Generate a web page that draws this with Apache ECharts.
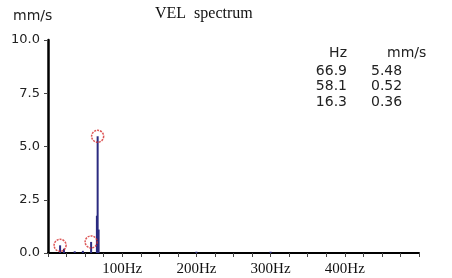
<!DOCTYPE html>
<html>
<head>
<meta charset="utf-8">
<script src="https://cdn.jsdelivr.net/npm/echarts@6/dist/echarts.min.js"></script>
<style>html,body{margin:0;padding:0;background:#fff}#c{width:452px;height:278px}</style>
</head>
<body>
<div id="c"></div>
<script>
const freqs = [16.3, 21.5, 36, 47, 58.1, 65.9, 66.9, 68.2, 200, 300];
const amps  = [0.36, 0.2, 0.08, 0.1, 0.52, 1.75, 5.48, 1.1, 0.06, 0.06];
const peakFreqs = [66.9, 58.1, 16.3];
const peakAmps  = [5.48, 0.52, 0.36];
const yTicks = [0, 2.5, 5, 7.5, 10];
const xLabelTicks = [100, 200, 300, 400];

const chart = echarts.init(document.getElementById('c'), null, {renderer: 'canvas'});
const sans = 'DejaVu Sans';
const serif = 'Liberation Serif';
const graphics = [
  {type: 'text', left: 13, top: 9, style: {text: 'mm/s', font: '14px "' + sans + '"', fill: '#222'}},
  {type: 'text', left: 155, top: 6, style: {text: 'VEL  spectrum', font: '16px "' + serif + '"', fill: '#111'}},
  {type: 'text', right: 105, top: 46, style: {text: 'Hz', font: '14px "' + sans + '"', fill: '#222', textAlign: 'right'}},
  {type: 'text', left: 387, top: 46, style: {text: 'mm/s', font: '14px "' + sans + '"', fill: '#222'}}
];
peakFreqs.forEach((f, i) => {
  graphics.push({type: 'text', right: 105, top: 64 + i * 15.6, style: {text: f.toFixed(1), font: '14px "' + sans + '"', fill: '#222'}});
  graphics.push({type: 'text', left: 371, top: 64 + i * 15.6, style: {text: peakAmps[i].toFixed(2), font: '14px "' + sans + '"', fill: '#222'}});
});

chart.setOption({
  animation: false,
  backgroundColor: '#fff',
  grid: {left: 48, right: 33, top: 40, bottom: 25},
  xAxis: {
    type: 'value', min: 0, max: 500, interval: 100,
    axisLine: {show: true, lineStyle: {color: '#000', width: 2}},
    axisTick: {show: true, length: 4, lineStyle: {color: '#444'}},
    minorTick: {show: true, splitNumber: 4, length: 4, lineStyle: {color: '#444'}},
    splitLine: {show: false},
    axisLabel: {
      margin: 9, fontFamily: serif, fontSize: 15, color: '#111',
      formatter: v => xLabelTicks.indexOf(v) >= 0 ? v + 'Hz' : ''
    }
  },
  yAxis: {
    type: 'value', min: 0, max: 10, interval: 2.5,
    axisLine: {show: true, lineStyle: {color: '#000', width: 2.5}},
    axisTick: {show: true, length: 4, lineStyle: {color: '#444'}},
    splitLine: {show: false},
    axisLabel: {
      margin: 8, fontFamily: sans, fontSize: 13, color: '#222',
      formatter: v => yTicks.indexOf(v) >= 0 ? v.toFixed(1) : ''
    }
  },
  series: [
    {
      type: 'bar', barWidth: 2, barGap: '-100%',
      itemStyle: {color: '#2b2b80'},
      data: freqs.map((f, i) => [f, amps[i]])
    },
    {
      type: 'scatter', symbol: 'circle', symbolSize: 12, z: 5,
      itemStyle: {color: 'rgba(0,0,0,0)', borderColor: '#d42a2a', borderWidth: 1.5, borderType: [2, 1]},
      data: peakFreqs.map((f, i) => [f, peakAmps[i]])
    }
  ],
  graphic: graphics
});
</script>
</body>
</html>
